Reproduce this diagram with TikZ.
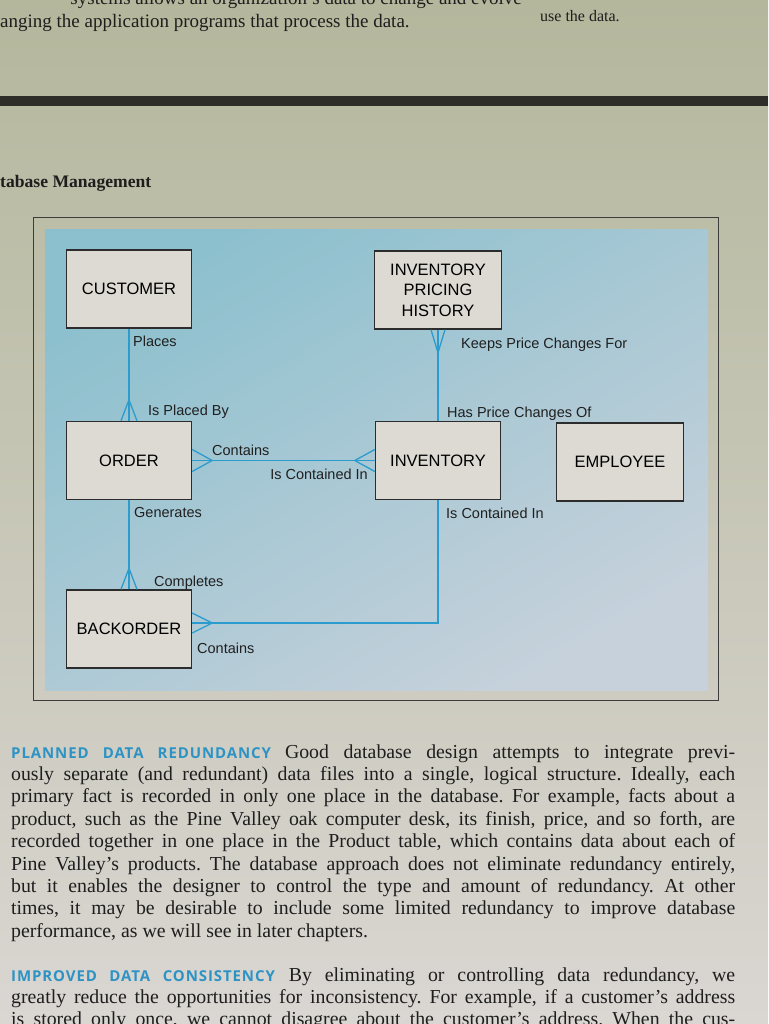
\documentclass[tikz,border=0pt]{standalone}
\usepackage{fontspec}
\setmainfont{Liberation Serif}
\setsansfont{Liberation Sans}
\newfontfamily\headfont{Open Sans}[LetterSpace=6]
\usepackage{xcolor}
\usepackage{tikz}
\usetikzlibrary{positioning}

\definecolor{pagetop}{HTML}{B4B79C}
\definecolor{pagebot}{HTML}{DAD6D2}
\definecolor{barcol}{HTML}{2F2D29}
\definecolor{framecol}{HTML}{3C3C3C}
\definecolor{bluetop}{HTML}{8DC0CE}
\definecolor{bluebot}{HTML}{C6D1DB}
\definecolor{boxfill}{HTML}{DDDAD3}
\definecolor{boxline}{HTML}{2C2C2C}
\definecolor{relblue}{HTML}{2B9CCD}
\definecolor{lbltext}{HTML}{202020}
\definecolor{bodytext}{HTML}{1E1E1E}
\definecolor{headblue}{HTML}{2D93C5}

\newcommand{\runhead}[1]{{\headfont\bfseries\fontsize{15}{22.4}\selectfont\color{headblue}#1}\hspace{14pt}}

\begin{document}
\begin{tikzpicture}[
    x=1pt, y=-1pt,
    entity/.style={draw=boxline, fill=boxfill, line width=1.4pt,
                   minimum width=125pt, minimum height=78pt, inner sep=2pt,
                   align=center, font=\sffamily\fontsize{16.5}{20.5}\selectfont},
    rel/.style={draw=relblue, line width=1.3pt},
    lbl/.style={font=\sffamily\fontsize{14.5}{17}\selectfont, text=lbltext,
                inner sep=0pt, anchor=base west},
    serif/.style={font=\fontsize{19}{22}\selectfont, text=bodytext,
                  inner sep=0pt, anchor=base west},
    body/.style={anchor=base west, text width=724pt, align=justify, inner sep=0pt,
                 font=\fontsize{19.8}{22.4}\selectfont, text=bodytext,
                 execute at begin node={\tolerance=10000\relax\frenchspacing}}
  ]
  \useasboundingbox (0,0) rectangle (768,1024);
  \clip (0,0) rectangle (768,1024);

  % page
  \fill[top color=pagetop, bottom color=pagebot] (0,0) rectangle (768,1024);
  \fill[barcol] (0,96) rectangle (768,106);

  % running text above
  \node[serif, anchor=base east] (cutline) at (522,5) {systems allows an organization's data to change and evolve};
  \node[serif] (topline) at (0,28) {anging the application programs that process the data.};
  \node[serif, font=\fontsize{16}{18}\selectfont] (sideline) at (540,22) {use the data.};
  \node[serif, font=\bfseries\fontsize{17.6}{20}\selectfont] (caption) at (0,188) {tabase Management};

  % figure panel
  \draw[framecol, line width=1pt] (33,218) rectangle (718,700);
  \fill[top color=bluetop, bottom color=bluebot, shading angle=30] (45,230) rectangle (708,690);

  % entities
  \node[entity] (cust) at (129,289) {CUSTOMER};
  \node[entity, minimum width=127pt] (iph) at (438,290) {INVENTORY\\PRICING\\HISTORY};
  \node[entity] (ord) at (129,460.5) {ORDER};
  \node[entity] (inv) at (438,460.5) {INVENTORY};
  \node[entity, minimum width=127pt] (emp) at (620,462) {EMPLOYEE};
  \node[entity] (back) at (129,629) {BACKORDER};

  % relationships
  \draw[rel] (cust) -- (ord);
  \draw[rel] (iph) -- (inv);
  \draw[rel] (ord) -- (inv);
  \draw[rel] (ord) -- (back);
  \draw[rel] ([yshift=6pt]back.east) -| (inv.south);

  % crow's feet
  \draw[rel] ([xshift=-8pt]ord.north) -- ([yshift=21pt]ord.north) -- ([xshift=8pt]ord.north);
  \draw[rel] ([xshift=-8pt]back.north) -- ([yshift=21pt]back.north) -- ([xshift=8pt]back.north);
  \draw[rel] ([xshift=-7pt]iph.south) -- ([yshift=-23pt]iph.south) -- ([xshift=7pt]iph.south);
  \draw[rel] ([yshift=11pt]ord.east) -- ([xshift=20pt]ord.east) -- ([yshift=-11pt]ord.east);
  \draw[rel] ([yshift=11pt]inv.west) -- ([xshift=-20pt]inv.west) -- ([yshift=-11pt]inv.west);
  \draw[rel] ([yshift=16pt]back.east) -- ([xshift=20pt,yshift=6pt]back.east) -- ([yshift=-4pt]back.east);

  % relationship names
  \node[lbl] (lplaces) at (133,346) {Places};
  \node[lbl] (lplacedby) at (148,415) {Is Placed By};
  \node[lbl] (lkeeps) at (461,348) {Keeps Price Changes For};
  \node[lbl] (lhas) at (447,417) {Has Price Changes Of};
  \node[lbl] (lcontains) at (212,455) {Contains};
  \node[lbl, anchor=base east] (lcontained) at (368,479) {Is Contained In};
  \node[lbl] (lgenerates) at (134,517) {Generates};
  \node[lbl] (lcontainedb) at (446,518) {Is Contained In};
  \node[lbl] (lcompletes) at (154,586) {Completes};
  \node[lbl] (lcontainsb) at (197,653) {Contains};

  % body text
  \node[body] (para1) at (11,758) {\runhead{PLANNED DATA REDUNDANCY}Good database design attempts to integrate previ-\linebreak
    ously separate (and redundant) data files into a single, logical structure. Ideally, each\linebreak
    primary fact is recorded in only one place in the database. For example, facts about a\linebreak
    product, such as the Pine Valley oak computer desk, its finish, price, and so forth, are\linebreak
    recorded together in one place in the Product table, which contains data about each of\linebreak
    Pine Valley's products. The database approach does not eliminate redundancy entirely,\linebreak
    but it enables the designer to control the type and amount of redundancy. At other\linebreak
    times, it may be desirable to include some limited redundancy to improve database\linebreak
    performance, as we will see in later chapters.};
  \node[body] (para2) at (11,981) {\runhead{IMPROVED DATA CONSISTENCY}By eliminating or controlling data redundancy, we\linebreak
    greatly reduce the opportunities for inconsistency. For example, if a customer's address\linebreak
    is stored only once, we cannot disagree about the customer's address. When the cus-\linebreak\null};
\end{tikzpicture}
\end{document}
